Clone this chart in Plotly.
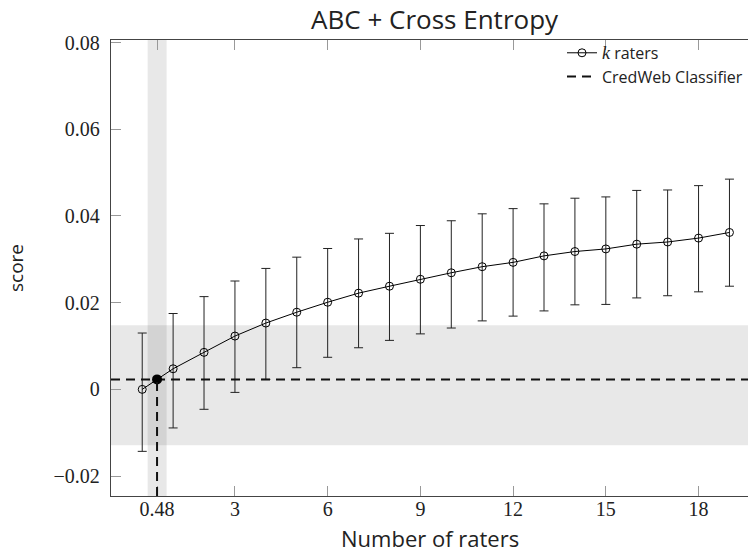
import plotly.graph_objects as go

# ---- data ----
raters = list(range(20))
score = [0.0, 0.00475, 0.00854, 0.0123, 0.0153, 0.0178, 0.0201, 0.0222, 0.0238, 0.0254,
         0.0269, 0.0283, 0.0293, 0.0308, 0.0318, 0.0324, 0.0335, 0.0340, 0.0349, 0.0362]
err_upper = [0.0130, 0.0175, 0.0214, 0.0250, 0.0279, 0.0305, 0.0325, 0.0347, 0.0360, 0.0378,
             0.0389, 0.0405, 0.0417, 0.0428, 0.0441, 0.0444, 0.0459, 0.0460, 0.0470, 0.0485]
err_lower = [-0.0143, -0.0089, -0.0046, -0.0007, 0.0023, 0.0050, 0.0074, 0.0096, 0.0113, 0.0128,
             0.01415, 0.0158, 0.0169, 0.0181, 0.0195, 0.0196, 0.0211, 0.0216, 0.0225, 0.0238]

cred_score = 0.0023
cred_score_band = [-0.0129, 0.0148]
cred_raters = 0.48
cred_raters_band = [0.175, 0.79]

x_tickvals = [0.48, 3, 6, 9, 12, 15, 18]
x_ticktext = ["0.48", "3", "6", "9", "12", "15", "18"]
y_tickvals = [-0.02, 0, 0.02, 0.04, 0.06, 0.08]
y_ticktext = ["\u22120.02", "0", "0.02", "0.04", "0.06", "0.08"]
x_range = [-1.01, 19.6]
y_range = [-0.0246, 0.0806]

err_plus = [u - s for u, s in zip(err_upper, score)]
err_minus = [s - l for s, l in zip(score, err_lower)]

SERIF = "Liberation Serif"
SANS = "Open Sans"
PLOT_H = 552 - 40 - 56

fig = go.Figure()

fig.add_trace(go.Scatter(
    x=raters, y=score, mode="lines+markers",
    name="<span style='font-family:Liberation Serif;font-size:18px'><i>k</i></span> raters",
    line=dict(color="black", width=1),
    marker=dict(symbol="circle-open", size=8, color="black", line=dict(width=1)),
    error_y=dict(type="data", symmetric=False, array=err_plus, arrayminus=err_minus,
                 color="#222", thickness=1, width=4.5),
))

fig.add_trace(go.Scatter(
    x=x_range, y=[cred_score, cred_score], mode="lines",
    name="CredWeb Classifier",
    line=dict(color="#111", width=2, dash="9px,6px"),
))

fig.add_trace(go.Scatter(
    x=[cred_raters], y=[cred_score], mode="markers", showlegend=False,
    marker=dict(symbol="circle", size=10, color="black"),
))

# bands
fig.add_shape(type="rect", xref="paper", yref="y", x0=0, x1=1,
              y0=cred_score_band[0], y1=cred_score_band[1],
              fillcolor="rgba(0,0,0,0.09)", line=dict(width=0), layer="below")
fig.add_shape(type="rect", xref="x", yref="paper", x0=cred_raters_band[0], x1=cred_raters_band[1],
              y0=0, y1=1,
              fillcolor="rgba(0,0,0,0.09)", line=dict(width=0), layer="below")
# vertical dashed drop line
fig.add_shape(type="line", xref="x", yref="y", x0=cred_raters, x1=cred_raters,
              y0=y_range[0], y1=cred_score,
              line=dict(color="#111", width=2, dash="9px,6px"))

# x-axis title
fig.add_annotation(text="Number of raters", xref="paper", yref="paper",
                   x=0.5, y=-42 / PLOT_H, xanchor="center", yanchor="middle",
                   showarrow=False, font=dict(family=SANS, size=22, color="#222"))

fig.update_layout(
    width=748, height=552,
    margin=dict(l=111, r=0, t=40, b=56, autoexpand=False),
    paper_bgcolor="white", plot_bgcolor="white",
    title=dict(text="ABC + Cross Entropy", xref="container", x=0.581, xanchor="center",
               yref="container", y=1 - 20 / 552, yanchor="middle",
               font=dict(family=SANS, size=26, color="#222")),
    showlegend=True,
    legend=dict(x=1.0, xanchor="right", y=1.009, yanchor="top", bgcolor="rgba(0,0,0,0)",
                font=dict(family=SANS, size=16, color="#222"), tracegroupgap=0,
                borderwidth=0),
    font=dict(family=SERIF, size=20, color="#222"),
)

fig.update_xaxes(
    range=x_range, tickvals=x_tickvals, ticktext=x_ticktext, automargin=False,
    ticks="inside", ticklen=10, tickcolor="#999", tickwidth=1, ticklabelstandoff=-5,
    showline=True, linecolor="#444", linewidth=1.3, mirror="ticks",
    showgrid=False, zeroline=False,
    tickfont=dict(family=SERIF, size=20, color="#222"),
)
fig.update_yaxes(
    range=y_range, tickvals=y_tickvals, ticktext=y_ticktext, automargin=False,
    ticks="inside", ticklen=10, tickcolor="#999", tickwidth=1, ticklabelstandoff=6,
    showline=True, linecolor="#444", linewidth=1.3, mirror=False,
    showgrid=False, zeroline=False,
    tickfont=dict(family=SERIF, size=20, color="#222"),
    title=dict(text="score", font=dict(family=SANS, size=19, color="#222"), standoff=24),
)

fig.write_html("out.html", config={"displayModeBar": False},
               post_script="document.body.style.margin='0';")
